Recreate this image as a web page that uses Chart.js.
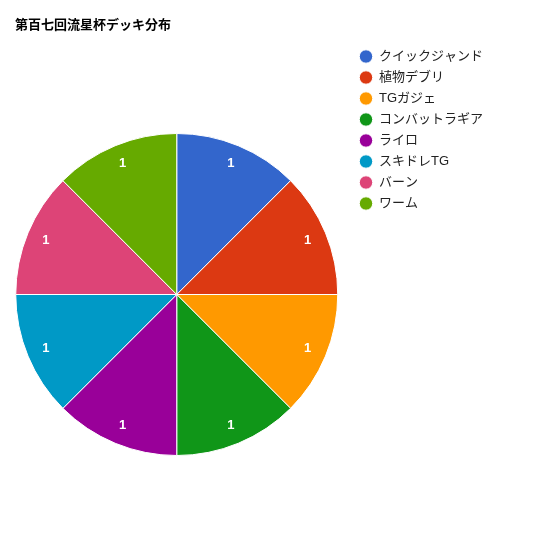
<!DOCTYPE html>
<html>
<head>
<meta charset="utf-8">
<script src="https://cdn.jsdelivr.net/npm/chart.js@4/dist/chart.umd.min.js"></script>
<style>
  html, body { margin: 0; padding: 0; background: #fff; overflow: hidden; }
  #wrap { position: relative; width: 540px; height: 540px; overflow: hidden; }
  #myChart { position: absolute; left: 0; top: 0; }
  #title {
    position: absolute; left: 15px; top: 16px;
    font: bold 13px 'Liberation Sans', 'Noto Sans CJK JP', sans-serif;
    line-height: 17px; color: #000; white-space: nowrap;
  }
</style>
</head>
<body>
<div id="wrap">
  <canvas id="myChart" width="540" height="547"></canvas>
  <div id="title">第百七回流星杯デッキ分布</div>
</div>
<script>
// data
var deckNames = ['クイックジャンド', '植物デブリ', 'TGガジェ', 'コンバットラギア', 'ライロ', 'スキドレTG', 'バーン', 'ワーム'];
var deckCounts = [1, 1, 1, 1, 1, 1, 1, 1];
var sliceColors = ['#3366cc', '#dc3912', '#ff9900', '#109618', '#990099', '#0099c6', '#dd4477', '#66aa00'];

var fontFamily = "'Liberation Sans', 'Noto Sans CJK JP', sans-serif";

// value text inside each slice
var sliceLabels = {
    id: 'sliceLabels',
    afterDatasetsDraw: function(chart) {
        var ctx = chart.ctx;
        var meta = chart.getDatasetMeta(0);
        ctx.save();
        ctx.fillStyle = '#fff';
        ctx.font = 'bold 13px ' + fontFamily;
        ctx.textAlign = 'center';
        ctx.textBaseline = 'middle';
        meta.data.forEach(function(arc, i) {
            var p = arc.getProps(['x', 'y', 'startAngle', 'endAngle', 'outerRadius'], true);
            var mid = (p.startAngle + p.endAngle) / 2;
            var r = p.outerRadius * 0.88;
            ctx.fillText(String(deckCounts[i]), p.x + Math.cos(mid) * r, p.y + Math.sin(mid) * r);
        });
        ctx.restore();
    }
};

var ctx = document.getElementById('myChart');
var chartDeck = new Chart(ctx, {
    type: 'pie',
    data: {
        labels: deckNames,
        datasets: [{
            data: deckCounts,
            backgroundColor: sliceColors,
            borderColor: '#fff',
            borderWidth: 1,
            radius: 161
        }]
    },
    options: {
        responsive: false,
        animation: false,
        layout: {
            padding: { top: 42, left: 2, right: 47, bottom: 0 }
        },
        plugins: {
            tooltip: { enabled: false },
            legend: {
                position: 'right',
                align: 'start',
                labels: {
                    usePointStyle: true,
                    pointStyle: 'circle',
                    boxHeight: 9.5,
                    padding: 8,
                    color: '#222',
                    font: { size: 13, family: fontFamily }
                }
            }
        }
    },
    plugins: [sliceLabels]
});
</script>
</body>
</html>
